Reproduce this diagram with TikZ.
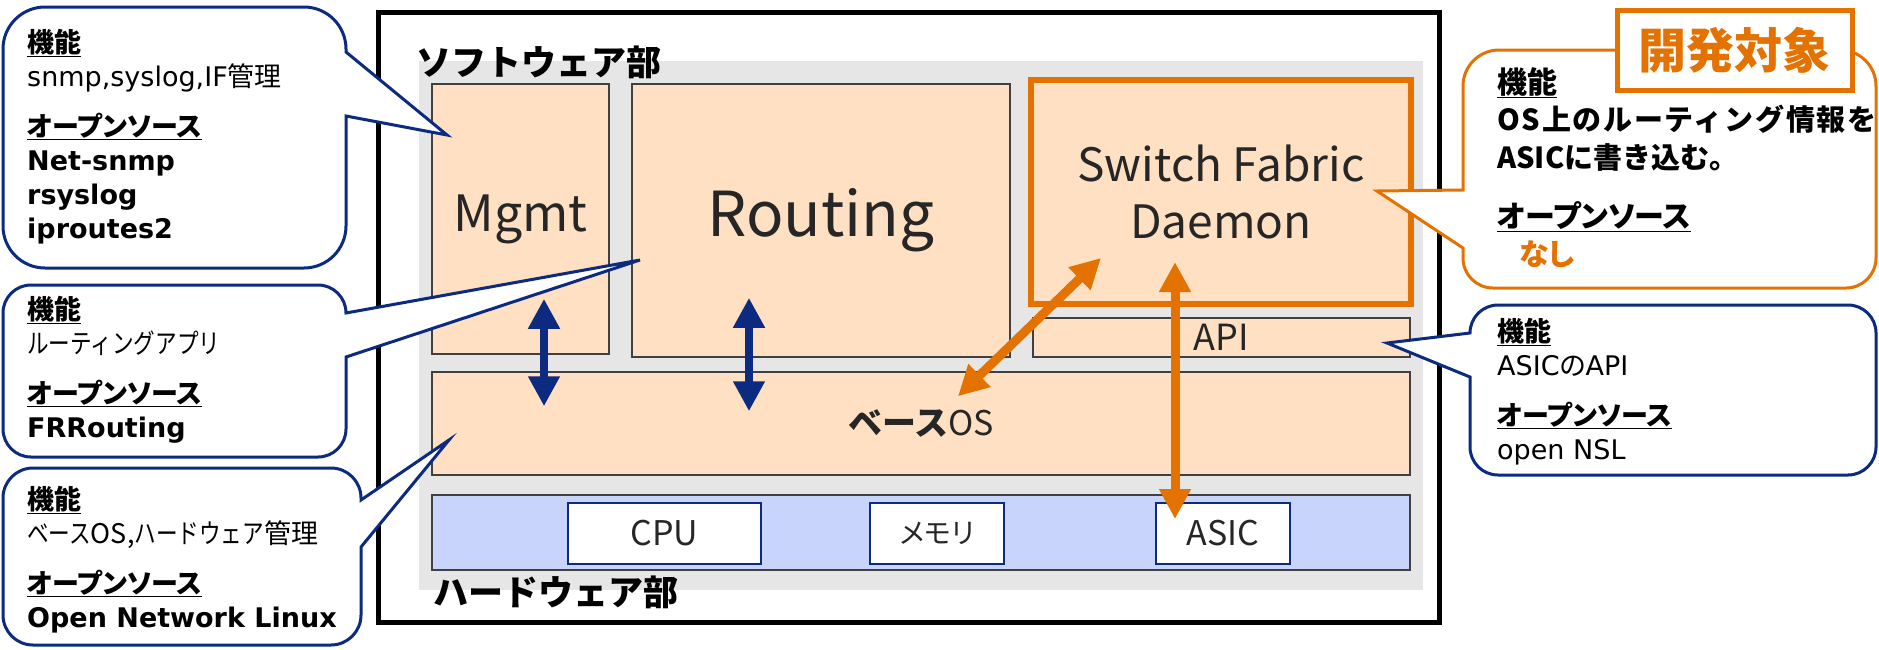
\documentclass[tikz,border=0pt]{standalone}
\usepackage{fontspec}
\setmainfont{Noto Sans CJK JP}
\newfontfamily\calja{Noto Sans CJK JP}[RawFeature=+palt]
\newfontfamily\caljn{Noto Sans CJK JP}[FakeStretch=0.8]
\newfontfamily\callat{DejaVu Sans}
\usetikzlibrary{arrows.meta,calc}

\definecolor{peach}{HTML}{FFE0C2}
\definecolor{navy}{HTML}{0B2A80}
\definecolor{dorange}{HTML}{E47200}
\definecolor{hwblue}{HTML}{C8D4FC}
\definecolor{bggray}{HTML}{E6E6E6}
\definecolor{boxline}{HTML}{404040}
\definecolor{txtgray}{HTML}{262626}

\newcommand{\entxt}[1]{{\callat #1}}
\newcommand{\kana}[1]{{\caljn #1}}
\newcommand{\calhead}[1]{{\bfseries\underline{#1}}}

\begin{document}
\begin{tikzpicture}[x=1pt, y=-1pt, >={Triangle[length=30pt,width=30pt]},
    swbox/.style={draw=boxline, line width=1.5pt, fill=peach, text=txtgray, inner sep=0pt},
    hwpart/.style={draw=navy, line width=2pt, fill=white, text=txtgray, inner sep=0pt, minimum height=61pt, font=\fontsize{34}{40}\selectfont},
    updown/.style={<->, draw=navy, line width=8pt},
    orline/.style={<->, draw=dorange, line width=9pt},
    bluecall/.style={draw=navy, line width=3pt, fill=white},
    orcall/.style={draw=dorange, line width=3pt, fill=white},
    caltext/.style={font=\calja\fontsize{27}{34}\selectfont, align=left, inner sep=0pt, anchor=north west}]

    % Canvas
    \fill[white] (0,0) rectangle (1879,649);
    \useasboundingbox (0,0) rectangle (1879,649);

    % Switch frame and background
    \node[draw, line width=5pt, minimum width=1061pt, minimum height=610pt] (frame) at (908.5,317) {};
    \node[fill=bggray, minimum width=1004pt, minimum height=529pt] (area) at (921,325.5) {};
    \node[anchor=west, inner sep=0pt, font=\bfseries\fontsize{35}{40}\selectfont] (swlabel) at (416,62) {ソフトウェア部};
    \node[anchor=west, inner sep=0pt, font=\bfseries\fontsize{35}{40}\selectfont] (hwlabel) at (433,592) {ハードウェア部};

    % Software blocks
    \node[swbox, minimum width=177pt, minimum height=270pt, font=\fontsize{50}{60}\selectfont] (mgmt) at (520.5,219) {Mgmt};
    \node[swbox, minimum width=378pt, minimum height=273pt, font=\fontsize{62}{72}\selectfont] (routing) at (821,220.5) {Routing};
    \node[swbox, draw=dorange, line width=6pt, minimum width=380pt, minimum height=224pt, align=center, font=\fontsize{46}{57}\selectfont] (sfd) at (1221,192) {Switch Fabric\\Daemon};
    \node[swbox, minimum width=377pt, minimum height=39pt, font=\fontsize{36}{40}\selectfont] (api) at (1221.5,337.5) {API};
    \node[swbox, minimum width=978pt, minimum height=103pt, font=\fontsize{34}{40}\selectfont] (baseos) at (921,423.5) {{\bfseries ベース}OS};

    % Hardware blocks
    \node[swbox, fill=hwblue, minimum width=978pt, minimum height=75pt] (hw) at (921,532.5) {};
    \node[hwpart, minimum width=193pt] (cpu) at (664.5,533.5) {CPU};
    \node[hwpart, minimum width=134pt, font=\calja\fontsize{28}{34}\selectfont] (mem) at (937,533.5) {メモリ};
    \node[hwpart, minimum width=134pt] (asic) at (1223,533.5) {ASIC};

    % Arrows
    \draw[updown, shorten <=-56pt, shorten >=-35pt] ([xshift=23.5pt]mgmt.south) -- ([xshift=23.5pt]mgmt.south |- baseos.north);
    \draw[updown, shorten <=-60pt, shorten >=-40pt] ([xshift=-72pt]routing.south) -- ([xshift=-72pt]routing.south |- baseos.north);
    \draw[orline] ($(sfd.south west)+(73,-49)$) -- ($(baseos.north)+(37,25)$);
    \draw[orline, shorten <=-45pt, shorten >=-17pt] ([xshift=-46pt]sfd.south) -- ([xshift=-46pt]sfd.south |- asic.north);

    % Callouts on the left
    \draw[bluecall] (3,150) [rounded corners=42pt] -- (3,7) -- (346,7) [sharp corners] -- (346,52) -- (447,135) -- (346,116) [rounded corners=42pt] -- (346,268) -- (3,268) -- cycle;
    \node[caltext] (mgmtnote) at (27,29) {\calhead{機能}\\
        \entxt{snmp,syslog,IF}管理\\[16pt]
        \calhead{オープンソース}\\
        \entxt{\bfseries Net-snmp}\\
        \entxt{\bfseries rsyslog}\\
        \entxt{\bfseries iproutes2}};

    \draw[bluecall] (3,370) [rounded corners=28pt] -- (3,285) -- (346,285) [sharp corners] -- (346,313) -- (640,260) -- (346,357) [rounded corners=28pt] -- (346,457) -- (3,457) -- cycle;
    \node[caltext] (routingnote) at (27,296) {\calhead{機能}\\
        \kana{ルーティングアプリ}\\[16pt]
        \calhead{オープンソース}\\
        \entxt{\bfseries FRRouting}};

    \draw[bluecall] (3,560) [rounded corners=30pt] -- (3,468) -- (361,468) [sharp corners] -- (361,500) -- (449,440) -- (361,547) [rounded corners=30pt] -- (361,645) -- (3,645) -- cycle;
    \node[caltext] (osnote) at (27,486) {\calhead{機能}\\
        \kana{ベース}OS,\kana{ハードウェア}管理\\[16pt]
        \calhead{オープンソース}\\
        \entxt{\bfseries Open Network Linux}};

    % Callouts on the right
    \draw[orcall] (1876,170) [rounded corners=36pt] -- (1876,50) -- (1463,50) [sharp corners] -- (1463,190) -- (1377,191) -- (1463,248) [rounded corners=30pt] -- (1463,288) -- (1876,288) -- cycle;
    \node[caltext, font=\calja\fontsize{30}{37.5}\selectfont] (sfdnote) at (1497,67) {\calhead{機能}\\
        {\rmfamily\bfseries\fontsize{29}{37.5}\selectfont\addfontfeature{LetterSpace=6}OS上のルーティング情報を}\\
        {\rmfamily\bfseries\fontsize{29}{37.5}\selectfont ASICに書き込む。}\\[22pt]
        \calhead{オープンソース}\\
        \hspace*{22pt}{\bfseries\color{dorange}なし}};
    \node[draw=dorange, line width=5pt, fill=white, text=dorange, font=\bfseries\fontsize{48}{56}\selectfont, minimum width=235pt, minimum height=80pt] (devtarget) at (1734.5,50) {開発対象};

    \draw[bluecall] (1876,400) [rounded corners=28pt] -- (1876,305) -- (1470,305) [sharp corners] -- (1470,333) -- (1387,343) -- (1470,377) [rounded corners=28pt] -- (1470,475) -- (1876,475) -- cycle;
    \node[caltext] (apinote) at (1497,318) {\calhead{機能}\\
        \entxt{ASIC}の\entxt{API}\\[16pt]
        \calhead{オープンソース}\\
        \entxt{open NSL}};

\end{tikzpicture}
\end{document}
